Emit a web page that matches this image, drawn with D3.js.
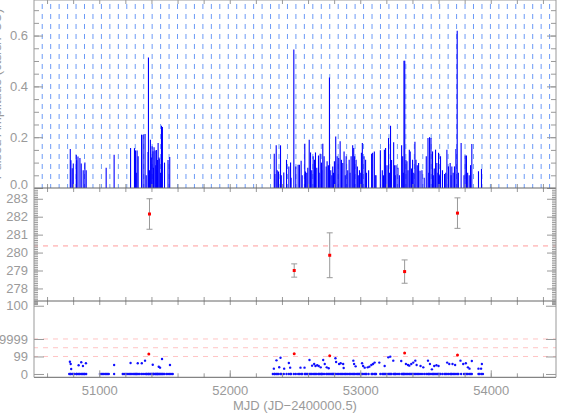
<!DOCTYPE html>
<html>
<head>
<meta charset="utf-8">
<script src="https://cdn.jsdelivr.net/npm/d3@7"></script>
<style>
	body { margin: 0; background: #fff; }
	svg { display: block; }
</style>
</head>
<body>
<div id="chart"></div>
<script>
// top panel: pulse amplitude per observation
const spikeMjd = [
	50778, 50783, 50793, 50801, 50824, 50827, 50837, 50852, 50862, 50877, 50890, 50900,
	51053, 51114,
	51240, 51270, 51278, 51284, 51290, 51298, 51324, 51336, 51351, 51360, 51374, 51377, 51385, 51392, 51399,
	51405, 51412, 51415, 51420, 51428, 51433, 51438, 51443, 51447, 51451, 51458, 51464, 51470, 51477, 51484,
	51500, 51527, 51540,
	52341, 52346, 52356, 52364, 52374, 52389, 52395, 52414, 52435, 52453, 52466, 52470, 52491, 52506, 52524,
	52534, 52547, 52555, 52575, 52580, 52590, 52598, 52609, 52619, 52628, 52639, 52649, 52657, 52667, 52680,
	52685, 52693, 52703, 52705, 52713, 52723, 52739, 52746, 52756, 52764, 52774, 52782, 52789, 52795, 52802,
	52812, 52823, 52835, 52846, 52856, 52866, 52876, 52885, 52892, 52904, 52915, 52922, 52930, 52942, 52950,
	52957, 52968, 52978, 52985, 52994, 53000, 53009, 53016, 53029, 53041, 53048, 53064, 53087, 53095, 53108,
	53115, 53121, 53154, 53169, 53178, 53185, 53194, 53205, 53217, 53225, 53232, 53240, 53256, 53263, 53268,
	53274, 53289, 53300, 53317, 53325, 53330, 53335, 53341, 53350, 53358, 53366, 53376, 53383, 53393, 53401,
	53410, 53419, 53427, 53437, 53447, 53458, 53473, 53490, 53506, 53519, 53525, 53531, 53542, 53554, 53560,
	53567, 53577, 53587, 53595, 53600, 53608, 53615, 53630, 53646, 53655, 53664, 53676, 53689, 53696, 53702,
	53712, 53722, 53733, 53743, 53752, 53773, 53795, 53804, 53814, 53823, 53835, 53845, 53855, 53906, 53929
];
const spikeAmp = [
	0.154, 0.109, 0.078, 0.096, 0.130, 0.109, 0.124, 0.118, 0.096, 0.070, 0.100, 0.070,
	0.080, 0.131,
	0.157, 0.157, 0.148, 0.060, 0.148, 0.125, 0.210, 0.210, 0.213, 0.050, 0.142, 0.514, 0.070, 0.190, 0.120,
	0.164, 0.145, 0.080, 0.160, 0.148, 0.090, 0.150, 0.070, 0.110, 0.177, 0.120, 0.115, 0.060, 0.245, 0.240,
	0.100, 0.110, 0.122,
	0.135, 0.055, 0.168, 0.070, 0.065, 0.168, 0.050, 0.061, 0.111, 0.085, 0.100, 0.040, 0.545, 0.085, 0.092,
	0.092, 0.107, 0.050, 0.174, 0.065, 0.060, 0.080, 0.190, 0.140, 0.070, 0.125, 0.111, 0.140, 0.080, 0.128,
	0.060, 0.135, 0.100, 0.070, 0.174, 0.125, 0.085, 0.105, 0.090, 0.435, 0.070, 0.050, 0.085, 0.060, 0.105,
	0.203, 0.125, 0.118, 0.184, 0.111, 0.098, 0.144, 0.050, 0.125, 0.070, 0.111, 0.060, 0.125, 0.168, 0.157,
	0.125, 0.111, 0.085, 0.050, 0.070, 0.060, 0.139, 0.177, 0.125, 0.111, 0.060, 0.070, 0.135, 0.139, 0.144,
	0.050, 0.050, 0.149, 0.070, 0.050, 0.151, 0.157, 0.090, 0.197, 0.060, 0.245, 0.110, 0.180, 0.090, 0.050,
	0.090, 0.080, 0.050, 0.168, 0.125, 0.060, 0.501, 0.501, 0.111, 0.105, 0.070, 0.151, 0.144, 0.077, 0.111,
	0.060, 0.182, 0.111, 0.090, 0.098, 0.068, 0.070, 0.040, 0.125, 0.197, 0.060, 0.200, 0.197, 0.144, 0.050,
	0.077, 0.151, 0.098, 0.060, 0.139, 0.050, 0.125, 0.070, 0.055, 0.060, 0.151, 0.085, 0.098, 0.050, 0.085,
	0.060, 0.085, 0.154, 0.619, 0.060, 0.177, 0.050, 0.128, 0.128, 0.060, 0.050, 0.090, 0.173, 0.066, 0.075
];
// observations without a pulse detection (only on the bottom baseline)
const quietMjd = [
	50770, 50810, 50845, 50870, 50885,
	51005, 51015, 51025, 51035, 51045, 51063, 51073,
	51180, 51190, 51200, 51210, 51220, 51230, 51250, 51260, 51310, 51365, 51490, 51515, 51550, 51563,
	52330, 53915, 53940
];

// middle panel: period measurements
const periodMjd = [51385, 52494, 52766, 53340, 53745];
const periodVal = [282.15, 279.0, 279.85, 278.94, 282.2];
const periodErr = [0.85, 0.37, 1.25, 0.65, 0.85];
const periodMean = 280.37;

// bottom panel: significance
const sigMjd = [
	50775, 50781, 50785, 50842, 50862, 50875, 50898, 51114, 51240, 51295, 51326, 51351, 51410, 51456, 51466,
	51481, 51542,
	52338, 52358, 52379, 52389, 52417, 52453, 52463, 52542, 52573, 52611, 52631, 52647, 52657, 52670, 52682,
	52697, 52716, 52728, 52743, 52758, 52810, 52815, 52838, 52850, 52869, 52873, 52947, 52953, 52965, 53014,
	53022, 53034, 53057, 53070, 53085, 53098, 53110, 53146, 53187, 53215, 53230, 53253, 53314, 53350, 53366,
	53376, 53391, 53406, 53422, 53432, 53462, 53483, 53519, 53534, 53549, 53567, 53584, 53600, 53666, 53682,
	53707, 53727, 53768, 53789, 53809, 53825, 53837, 53855, 53906, 53926, 53932
];
const sigVal = [
	1.40, 1.14, 0.57, 1.00, 1.34, 0.91, 1.22, 1.03, 1.26, 1.22, 1.22, 1.52, 1.06, 0.83, 0.72,
	1.71, 1.03,
	0.61, 1.56, 0.77, 1.86, 0.61, 1.26, 0.72, 0.72, 0.72, 1.60, 0.95, 1.14, 0.91, 0.99, 0.91,
	0.76, 1.60, 1.14, 0.76, 0.65, 1.79, 1.37, 1.14, 1.22, 1.14, 0.69, 1.52, 1.14, 0.87, 1.22,
	0.91, 0.72, 0.76, 0.84, 1.03, 1.14, 1.30, 1.30, 0.91, 1.90, 1.98, 1.52, 1.49, 1.14, 1.03,
	0.95, 1.14, 1.30, 1.52, 1.03, 0.91, 0.76, 1.52, 1.14, 0.53, 0.91, 0.99, 0.91, 1.30, 1.14,
	1.14, 1.03, 1.52, 1.14, 1.22, 0.76, 0.61, 1.49, 0.61, 0.61, 1.14
];
const sigRedMjd = [51380, 52494, 52766, 53340, 53745];
const sigRedVal = [2.29, 2.32, 2.09, 2.40, 2.17];
const sigLevels = [2, 3, 4];

// axes
const xTickValues = [51000, 52000, 53000, 54000];
const topTickValues = [0, 0.2, 0.4, 0.6];
const midTickValues = [278, 279, 280, 281, 282, 283];
const botTickValues = [0, 2, 4, 7.8];
const botTickLabels = ['0', '99', '9999', '100'];

const options = {
	w: 568,
	h: 419,
	left: 34,
	right: 556,
	font: '"Liberation Sans", Arial, sans-serif',
	fontSize: 13,
	axisColor: '#999',
	frameColor: '#666',
	gridStart: 50563,
	gridStep: 64.8
};

const svg = d3.select('#chart')
	.append('svg')
	.attr('width', options.w)
	.attr('height', options.h)
	.attr('viewBox', `0 0 ${options.w} ${options.h}`);

const x = d3.scaleLinear().domain([50500, 54500]).range([options.left, options.right]);
const yTop = d3.scaleLinear().domain([0, 0.74]).range([188, 0]);
const yMid = d3.scaleLinear().domain([277.3, 283.6]).range([301, 188]);
const yBot = d3.scaleLinear().domain([-0.38, 8.34]).range([377.3, 301]);

// ---- top panel ----
const grid = d3.range(options.gridStart, 54500, options.gridStep);
svg.append('g')
	.attr('class', 'grid')
	.selectAll('line')
	.data(grid)
	.join('line')
	.attr('x1', d => x(d))
	.attr('x2', d => x(d))
	.attr('y1', 0)
	.attr('y2', 188)
	.attr('stroke', '#6d9bf7')
	.attr('stroke-dasharray', '5,5')
	.attr('stroke-dashoffset', 6);

svg.append('g')
	.attr('class', 'spikes')
	.selectAll('line')
	.data(spikeMjd.map((d, i) => ({ mjd: d, amp: spikeAmp[i] })))
	.join('line')
	.attr('x1', d => x(d.mjd))
	.attr('x2', d => x(d.mjd))
	.attr('y1', yTop(0))
	.attr('y2', d => yTop(d.amp))
	.attr('stroke', '#0000ff')
	.attr('stroke-width', 1.1);

// ---- middle panel ----
svg.append('line')
	.attr('x1', options.left).attr('x2', options.right)
	.attr('y1', yMid(periodMean)).attr('y2', yMid(periodMean))
	.attr('stroke', '#ff9c9c')
	.attr('stroke-dasharray', '5,5')
	.attr('stroke-dashoffset', 1);

const period = svg.append('g')
	.attr('class', 'period')
	.selectAll('g')
	.data(periodMjd.map((d, i) => ({ mjd: d, v: periodVal[i], e: periodErr[i] })))
	.join('g');

period.append('line')
	.attr('x1', d => x(d.mjd)).attr('x2', d => x(d.mjd))
	.attr('y1', d => yMid(d.v - d.e)).attr('y2', d => yMid(d.v + d.e))
	.attr('stroke', '#999');
period.append('line')
	.attr('x1', d => x(d.mjd) - 3).attr('x2', d => x(d.mjd) + 3)
	.attr('y1', d => yMid(d.v + d.e)).attr('y2', d => yMid(d.v + d.e))
	.attr('stroke', '#999');
period.append('line')
	.attr('x1', d => x(d.mjd) - 3).attr('x2', d => x(d.mjd) + 3)
	.attr('y1', d => yMid(d.v - d.e)).attr('y2', d => yMid(d.v - d.e))
	.attr('stroke', '#999');
period.append('rect')
	.attr('x', d => x(d.mjd) - 1.5).attr('y', d => yMid(d.v) - 1.5)
	.attr('width', 3).attr('height', 3)
	.attr('fill', '#ff0000');

// ---- bottom panel ----
svg.append('g')
	.selectAll('line')
	.data(sigLevels)
	.join('line')
	.attr('x1', options.left).attr('x2', options.right)
	.attr('y1', d => yBot(d)).attr('y2', d => yBot(d))
	.attr('stroke', '#ffc4c4')
	.attr('stroke-dasharray', '5,5')
	.attr('stroke-dashoffset', 1);

svg.append('g')
	.attr('class', 'baseline')
	.selectAll('circle')
	.data(spikeMjd.concat(quietMjd))
	.join('circle')
	.attr('cx', d => x(d))
	.attr('cy', yBot(0))
	.attr('r', 1.2)
	.attr('fill', '#1010ff');

svg.append('g')
	.attr('class', 'sig')
	.selectAll('circle')
	.data(sigMjd.map((d, i) => ({ mjd: d, v: sigVal[i] })))
	.join('circle')
	.attr('cx', d => x(d.mjd))
	.attr('cy', d => yBot(d.v))
	.attr('r', 1.2)
	.attr('fill', '#1010ff');

svg.append('g')
	.attr('class', 'sig-red')
	.selectAll('circle')
	.data(sigRedMjd.map((d, i) => ({ mjd: d, v: sigRedVal[i] })))
	.join('circle')
	.attr('cx', d => x(d.mjd))
	.attr('cy', d => yBot(d.v))
	.attr('r', 1.5)
	.attr('fill', '#ff0000');

// ---- axes & frames ----
function styleAxis(g) {
	g.select('.domain').remove();
	g.attr('color', options.axisColor)
		.attr('font-family', options.font)
		.attr('font-size', options.fontSize);
	g.selectAll('text').attr('fill', '#9a9a9a');
}

function yAxes(scale, values, labels, minor, majorLen, minorLen) {
	const fmt = (d, i) => labels[i];
	const g = svg.append('g')
		.attr('transform', `translate(${options.left},0)`)
		.call(d3.axisLeft(scale).tickValues(values).tickFormat(fmt).tickSize(-majorLen).tickPadding(6))
		.call(styleAxis);
	svg.append('g')
		.attr('transform', `translate(${options.right},0)`)
		.call(d3.axisRight(scale).tickValues(values).tickFormat('').tickSize(-majorLen))
		.call(styleAxis);
	if (minor.length) {
		svg.append('g')
			.attr('transform', `translate(${options.left},0)`)
			.call(d3.axisLeft(scale).tickValues(minor).tickFormat('').tickSize(-minorLen))
			.call(styleAxis);
		svg.append('g')
			.attr('transform', `translate(${options.right},0)`)
			.call(d3.axisRight(scale).tickValues(minor).tickFormat('').tickSize(-minorLen))
			.call(styleAxis);
	}
	return g;
}

const topAxis = yAxes(yTop, topTickValues, topTickValues.map(d3.format('.1f')), d3.range(0.05, 0.74, 0.05), 9, 5);
// the 0.0 label sits just above the panel edge
topAxis.selectAll('text').filter(d => d === 0).attr('y', -3.5);
yAxes(yMid, midTickValues, midTickValues.map(String), d3.range(277.4, 283.6, 0.1), 9, 4);
yAxes(yBot, botTickValues, botTickLabels, d3.range(8.0, 8.34, 0.1), 10, 4);

const minorX = d3.range(50600, 54500, 200);
const edges = [0, 188, 301, 377.3];
edges.forEach((y, i) => {
	if (i > 0) {
		svg.append('g')
			.attr('transform', `translate(0,${y})`)
			.call(d3.axisBottom(x).tickValues(minorX).tickFormat('').tickSize(-4))
			.call(styleAxis);
	}
	if (i < edges.length - 1) {
		svg.append('g')
			.attr('transform', `translate(0,${y})`)
			.call(d3.axisTop(x).tickValues(minorX).tickFormat('').tickSize(-4))
			.call(styleAxis);
	}
	svg.append('line')
		.attr('x1', options.left).attr('x2', options.right)
		.attr('y1', y).attr('y2', y)
		.attr('stroke', i === 0 ? options.axisColor : options.frameColor);
});

svg.append('g')
	.attr('transform', 'translate(0,377.3)')
	.call(d3.axisBottom(x).tickValues(xTickValues).tickFormat(d3.format('d')).tickSize(-7).tickPadding(8))
	.call(styleAxis);

svg.append('line')
	.attr('x1', options.left).attr('x2', options.left)
	.attr('y1', 0).attr('y2', 377.3)
	.attr('stroke', options.axisColor);
svg.append('line')
	.attr('x1', options.right).attr('x2', options.right)
	.attr('y1', 0).attr('y2', 377.3)
	.attr('stroke', options.axisColor);

// titles
svg.append('text')
	.attr('x', (options.left + options.right) / 2)
	.attr('y', 410)
	.attr('text-anchor', 'middle')
	.attr('font-family', options.font)
	.attr('font-size', options.fontSize)
	.attr('fill', '#9a9a9a')
	.text('MJD (JD\u22122400000.5)');

// y title: mostly outside the picture, as in the original
svg.append('text')
	.attr('transform', 'translate(1,94) rotate(-90)')
	.attr('text-anchor', 'middle')
	.attr('font-family', options.font)
	.attr('font-size', options.fontSize)
	.attr('fill', '#9a9a9a')
	.text('Pulsed Amplitude (cts/s/PCU)');
</script>
</body>
</html>
